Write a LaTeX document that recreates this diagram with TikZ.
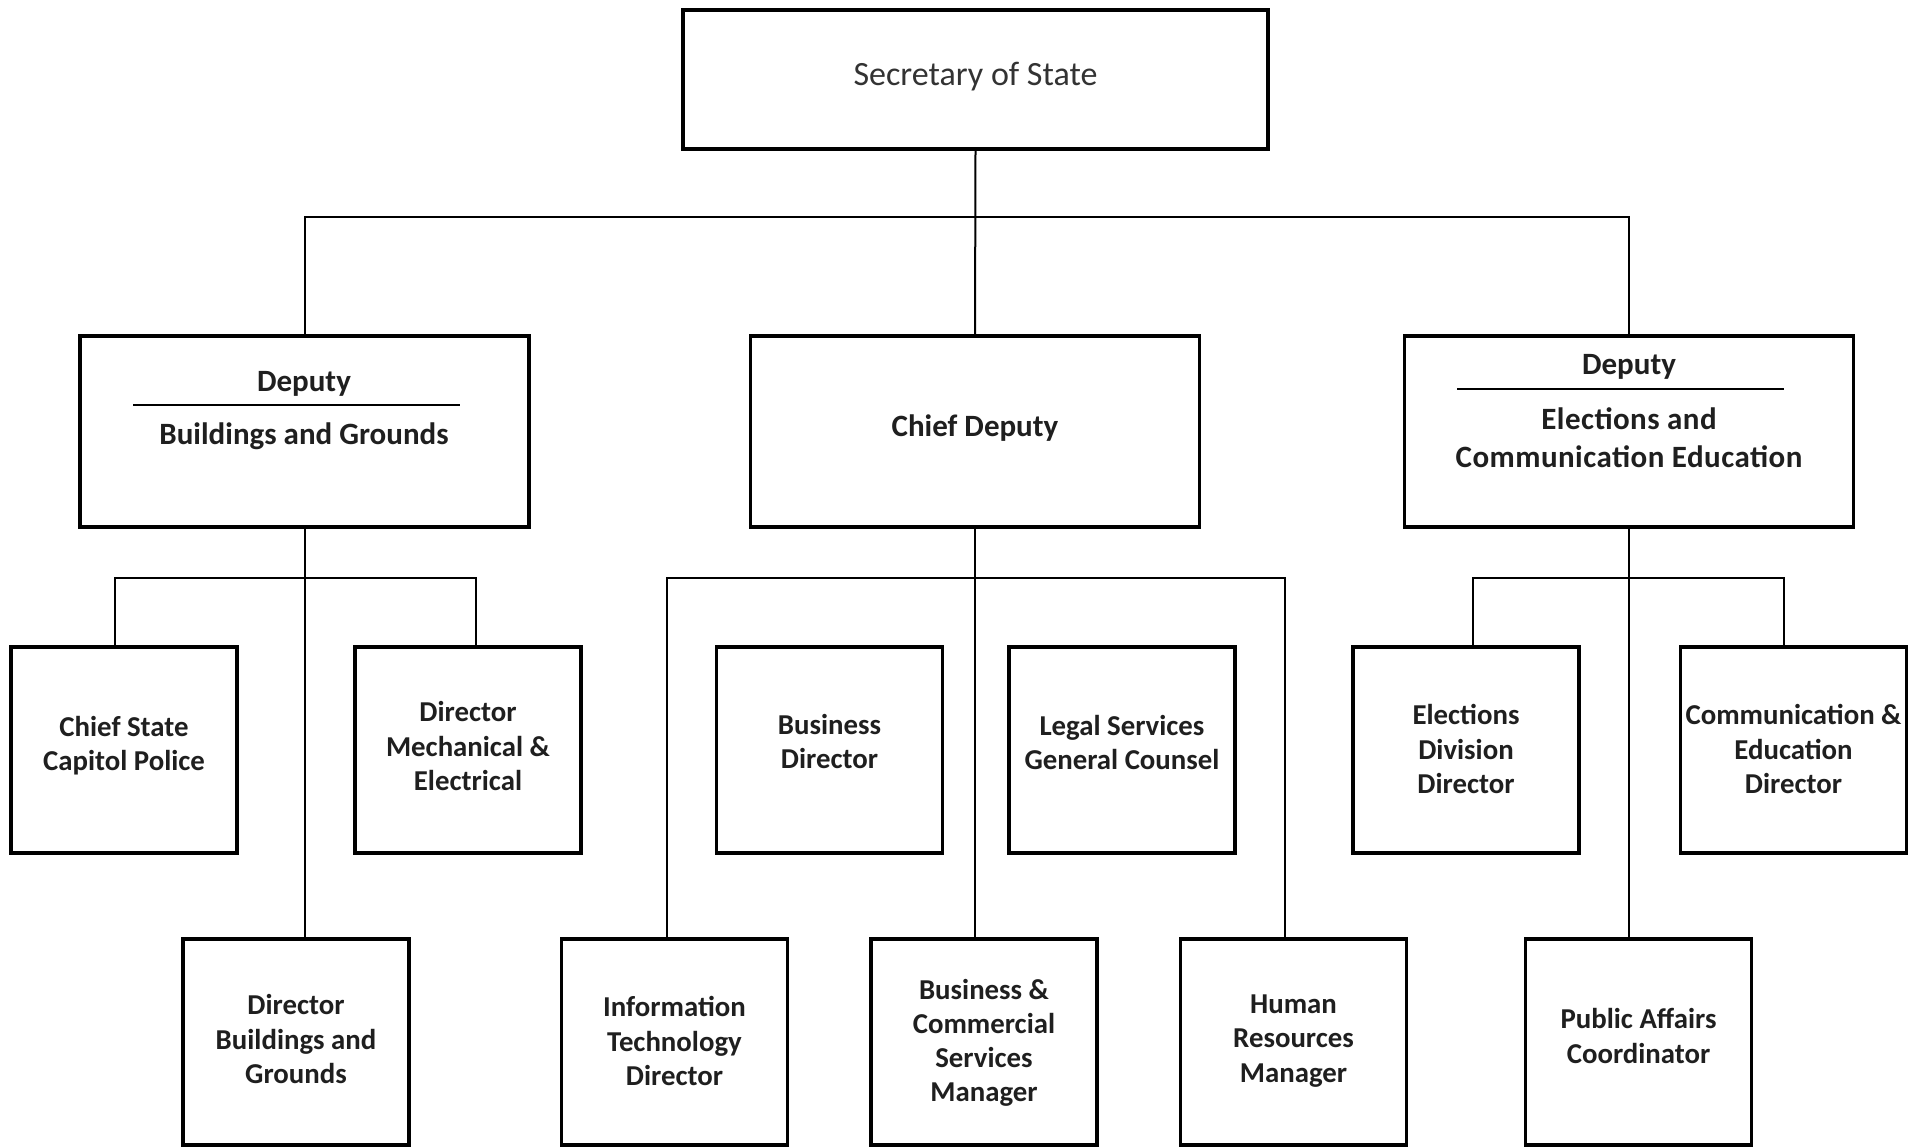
\documentclass[tikz,border=0pt]{standalone}
\usepackage{fontspec}
\setmainfont{Carlito}
\begin{document}
\begin{tikzpicture}[x=1pt,y=-1pt,
  box/.style={draw=black,line width=3.2pt,rectangle,inner sep=0pt},
  lvtwo/.style={box,minimum width=449pt,minimum height=191pt},
  lvthree/.style={box,minimum width=226pt,minimum height=206pt},
  conn/.style={draw=black,line width=2pt},
  lbl/.style={inner sep=0pt,align=center,font=\bfseries\fontsize{28.8}{34.2}\selectfont,text=black!88},
  lbltwo/.style={inner sep=0pt,align=center,font=\bfseries\fontsize{31}{38}\selectfont,text=black!88}]
\useasboundingbox (0,0) rectangle (1925,1147);
\fill[white] (0,0) rectangle (1925,1147);

% top
\node[box,minimum width=585pt,minimum height=139pt] (sec) at (975.5,79.5) {};
\node[inner sep=0pt,font=\fontsize{34}{40}\selectfont,text=black!80] (sect) at (975.5,76.5) {Secretary of State};

% level 2
\node[lvtwo] (dl) at (304.5,431.5) {};
\node[lvtwo] (cd) at (975,431.5) {};
\node[lvtwo] (dr) at (1629,431.5) {};
\node[lbltwo] (cdt) at (975,428.5) {Chief Deputy};
\node[lbltwo] (dlt1) at (304,384) {Deputy};
\node[lbltwo] (dlt2) at (304,436) {Buildings and Grounds};
\draw[line width=1.6pt] (133,405) -- (460,405);
\node[lbltwo] (drt1) at (1629,367) {Deputy};
\node[lbltwo] (drt2) at (1629,438) {\addfontfeature{LetterSpace=1.5}Elections and\\\addfontfeature{LetterSpace=1.5}Communication Education};
\draw[line width=1.6pt] (1457,389) -- (1784,389);

% level 3
\node[lvthree] (cs) at (124,750) {};
\node[lvthree] (mech) at (468,750) {};
\node[lvthree] (bd) at (829.5,750) {};
\node[lvthree] (legal) at (1122,750) {};
\node[lvthree] (ed) at (1466,750) {};
\node[lvthree] (ce) at (1793.5,750) {};
\node[lbl] (cst) at ([yshift=4pt]cs.center) {Chief State\\Capitol Police};
\node[lbl] (mecht) at ([yshift=4pt]mech.center) {Director\\Mechanical \&\\Electrical};
\node[lbl] (bdt) at ([yshift=8.5pt]bd.center) {Business\\Director};
\node[lbl] (legalt) at ([yshift=7.5pt]legal.center) {Legal Services\\General Counsel};
\node[lbl] (edt) at ([yshift=1pt]ed.center) {Elections\\Division\\Director};
\node[lbl] (cet) at ([yshift=1pt]ce.center) {Communication \&\\Education\\Director};

% level 4
\node[lvthree] (dbg) at (296,1042) {};
\node[lvthree] (it) at (674.5,1042) {};
\node[lvthree] (bcs) at (984,1042) {};
\node[lvthree] (hr) at (1293.5,1042) {};
\node[lvthree] (pa) at (1638.5,1042) {};
\node[lbl] (dbgt) at ([yshift=3pt]dbg.center) {Director\\Buildings and\\Grounds};
\node[lbl] (itt) at ([yshift=1pt]it.center) {Information\\Technology\\Director};
\node[lbl] (bcst) at ([yshift=-1pt]bcs.center) {Business \&\\Commercial\\Services\\Manager};
\node[lbl] (hrt) at ([yshift=1pt]hr.center) {Human\\Resources\\Manager};
\node[lbl] (pat) at ([yshift=6pt]pa.center) {Public Affairs\\Coordinator};

% junctions
\coordinate (j0) at (975.5,217);
\coordinate (jl) at (304.5,578);
\coordinate (jc) at (975,578);
\coordinate (jr) at (1629,578);

% connectors
\draw[conn] (sec.south) -- (cd.north);
\draw[conn] (dl.north) |- (j0) -| (dr.north);
\draw[conn] (dl.south) -- ([xshift=8.5pt]dbg.north);
\draw[conn] ([xshift=-9pt]cs.north) |- (jl) -| ([xshift=8pt]mech.north);
\draw[conn] (cd.south) -- ([xshift=-9pt]bcs.north);
\draw[conn] ([xshift=-7.5pt]it.north) |- (jc) -| ([xshift=-8.5pt]hr.north);
\draw[conn] (dr.south) -- ([xshift=-9.5pt]pa.north);
\draw[conn] ([xshift=7pt]ed.north) |- (jr) -| ([xshift=-9.5pt]ce.north);
\end{tikzpicture}
\end{document}
